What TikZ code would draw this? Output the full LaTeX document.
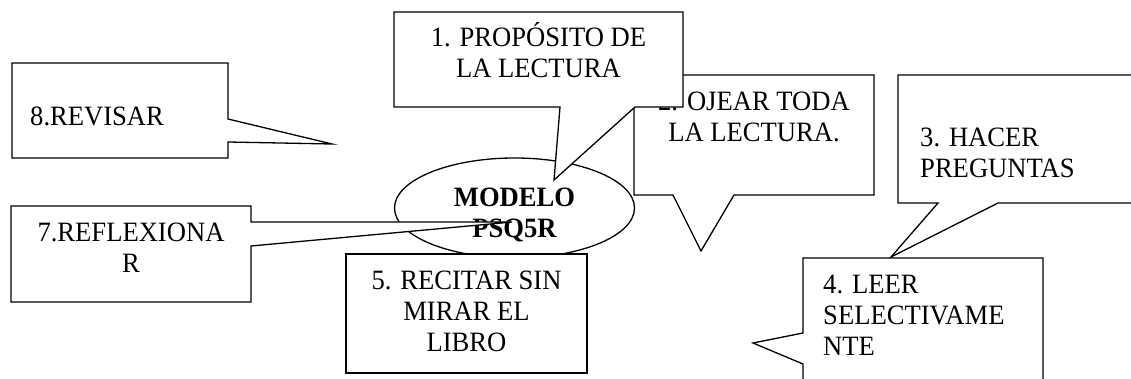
\documentclass[tikz,border=0pt]{standalone}
\usepackage{fontspec}
\setmainfont{Liberation Serif}[FakeStretch=0.95]
\tikzset{
  callout/.style={draw, fill=white, line width=1.3pt},
  lbl/.style={font=\fontsize{28}{31}\selectfont, inner sep=0pt, anchor=base, align=center},
  lblleft/.style={lbl, anchor=base west, align=left}
}
\begin{document}
\begin{tikzpicture}[x=1pt, y=-1pt]
                \clip(0, 0) rectangle (1131, 379);

                 % 8
                 \draw[callout](12, 63) -- (228, 63) -- (228, 119) -- (332, 144) -- (228, 142) -- (228, 158) -- (12, 158) -- cycle;
                    \node[lblleft] (revisar) at (30, 126){8.REVISAR};
                 % 3
                 \draw[callout](898, 75) -- (1140, 75) -- (1140, 203) -- (998, 203) -- (891, 257) -- (938, 203) -- (898, 203) -- cycle;
                    \node[lblleft] (hacer) at (920, 178){3. HACER\\PREGUNTAS};
                 % 4
                 \draw[callout](803, 258) -- (1043, 258) -- (1043, 400) -- (803, 400) -- (803, 364) -- (753, 343) -- (803, 333) -- cycle;
                    \node[lblleft] (leer) at (823, 355){4. LEER\\SELECTIVAME\\NTE};

                 % centro
                 \draw[callout](514.5, 208) ellipse [x radius=120pt, y radius=50pt];
                    \node[lbl, font=\fontsize{28}{31}\selectfont\bfseries] (modelo) at (514.5, 237){MODELO\\PSQ5R};

                 % 7
                 \draw[callout](11, 206) -- (251, 206) -- (251, 222) -- (512, 222) -- (251, 246) -- (251, 302) -- (11, 302) -- cycle;
                    \node[lbl] (reflexionar) at (131, 272){7.REFLEXIONA\\R};
                 % 5
                 \draw[callout](346, 254) rectangle (587, 373);
                    \node[lbl] (recitar) at (466.5, 351){5. RECITAR SIN\\MIRAR EL\\LIBRO};
                 % 2
                 \draw[callout](634, 75) -- (874, 75) -- (874, 195) -- (734, 195) -- (701, 251) -- (673, 195) -- (634, 195) -- cycle;
                    \node[lbl] (ojear) at (754, 142){2. OJEAR TODA\\LA LECTURA.};
                 % 1
                 \draw[callout](394, 12) -- (683, 12) -- (683, 107) -- (635, 107) -- (554, 180) -- (560, 107) -- (394, 107) -- cycle;
                    \node[lbl] (proposito) at (538.5, 78){1. PROPÓSITO DE\\LA LECTURA};

\end{tikzpicture}
\end{document}
